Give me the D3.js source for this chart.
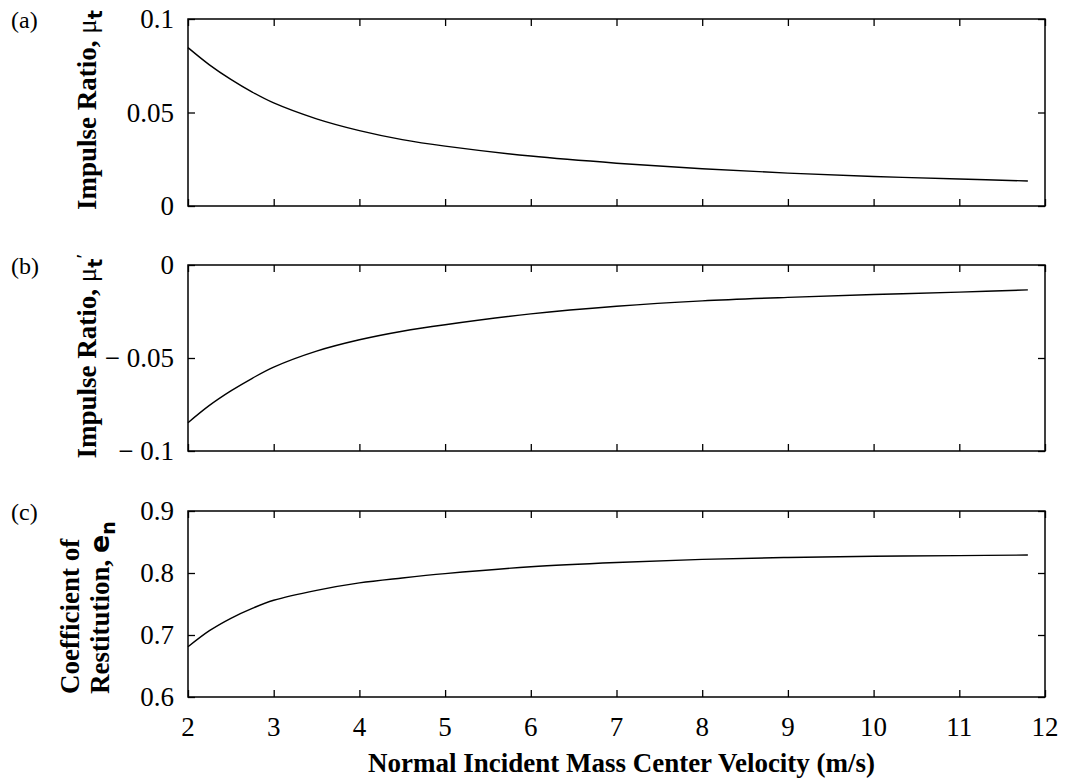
<!DOCTYPE html>
<html>
<head>
<meta charset="utf-8">
<script src="https://cdn.jsdelivr.net/npm/d3@7"></script>
<style>
  body { margin: 0; background: #fff; }
  svg { display: block; }
  text { font-family: 'Liberation Serif', 'Times New Roman', serif; fill: #000; }
</style>
</head>
<body>
<div id="chart"></div>
<script>
'use strict';

// ── Data ──
var velocity = [2, 2.25, 2.5, 2.75, 3, 3.5, 4, 4.5, 5, 6, 7, 8, 9, 10, 11, 11.8];
var ratioA   = [0.0847, 0.0755, 0.0677, 0.0609, 0.0551, 0.0466, 0.0403, 0.0355, 0.0320, 0.0267, 0.0229, 0.0199, 0.0176, 0.0158, 0.0144, 0.0134];
var ratioB   = [-0.0848, -0.0755, -0.0677, -0.0609, -0.0549, -0.0463, -0.0402, -0.0356, -0.0321, -0.0263, -0.0222, -0.0193, -0.0174, -0.0159, -0.0146, -0.0134];
var restC    = [0.681, 0.707, 0.727, 0.743, 0.756, 0.772, 0.784, 0.792, 0.799, 0.810, 0.817, 0.822, 0.825, 0.827, 0.828, 0.829];

var xTicks = [2, 3, 4, 5, 6, 7, 8, 9, 10, 11, 12];
var yTicksA = [0, 0.05, 0.1];
var yTicksB = [-0.1, -0.05, 0];
var yTicksC = [0.6, 0.7, 0.8, 0.9];
var yLabelsA = ['0', '0.05', '0.1'];
var yLabelsB = ['\u2212 0.1', '\u2212 0.05', '0'];
var yLabelsC = ['0.6', '0.7', '0.8', '0.9'];

var W = 1067, H = 784;
var left = 188, right = 1045;
var tickLen = 7;

var svg = d3.select('#chart').append('svg').attr('width', W).attr('height', H);

var x = d3.scaleLinear().domain([2, 12]).range([left, right]);

function panel(opts) {
    var y = d3.scaleLinear().domain(opts.domain).range([opts.bottom, opts.top]);
    var g = svg.append('g');

    // frame
    g.append('rect')
        .attr('x', left).attr('y', opts.top)
        .attr('width', right - left).attr('height', opts.bottom - opts.top)
        .style('fill', 'none').style('stroke', '#000').style('stroke-width', 1.5);

    // inward ticks, all four sides
    var bottomAx = d3.axisTop(x).tickValues(xTicks).tickSize(tickLen).tickFormat('');
    var topAx = d3.axisBottom(x).tickValues(xTicks).tickSize(tickLen).tickFormat('');
    var leftAx = d3.axisRight(y).tickValues(opts.ticks).tickSize(tickLen).tickFormat('');
    var rightAx = d3.axisLeft(y).tickValues(opts.ticks).tickSize(tickLen).tickFormat('');

    [[bottomAx, 'translate(0,' + opts.bottom + ')'],
     [topAx, 'translate(0,' + opts.top + ')'],
     [leftAx, 'translate(' + left + ',0)'],
     [rightAx, 'translate(' + right + ',0)']].forEach(function(a) {
        var ag = g.append('g').attr('transform', a[1]).call(a[0]);
        ag.select('.domain').remove();
        ag.selectAll('line').style('stroke', '#000').style('stroke-width', 1.3);
    });

    // y tick labels
    g.selectAll('.ylab')
        .data(opts.ticks).enter()
        .append('text').attr('class', 'ylab')
        .attr('x', left - 14)
        .attr('y', function(d) { return y(d); })
        .attr('dy', '0.35em')
        .attr('text-anchor', 'end')
        .style('font-size', '27px')
        .text(function(d, i) { return opts.tickLabels[i]; });

    // curve
    var line = d3.line()
        .x(function(d, i) { return x(velocity[i]); })
        .y(function(d) { return y(d); })
        .curve(d3.curveCatmullRom.alpha(0.5));
    g.append('path').datum(opts.values)
        .attr('d', line)
        .style('fill', 'none').style('stroke', '#000').style('stroke-width', 1.4);

    // panel letter
    svg.append('text')
        .attr('x', 11).attr('y', opts.top + 9)
        .style('font-size', '24px')
        .text(opts.letter);

    return y;
}

panel({ top: 19, bottom: 206, domain: [0, 0.1], ticks: yTicksA, tickLabels: yLabelsA, values: ratioA, letter: '(a)' });
panel({ top: 265, bottom: 451, domain: [-0.1, 0], ticks: yTicksB, tickLabels: yLabelsB, values: ratioB, letter: '(b)' });
panel({ top: 511, bottom: 697, domain: [0.6, 0.9], ticks: yTicksC, tickLabels: yLabelsC, values: restC, letter: '(c)' });

// x tick labels under the bottom panel
svg.selectAll('.xlab')
    .data(xTicks).enter()
    .append('text').attr('class', 'xlab')
    .attr('x', function(d) { return x(d); })
    .attr('y', 736)
    .attr('text-anchor', 'middle')
    .style('font-size', '27px')
    .text(function(d) { return d; });

svg.append('text')
    .attr('x', (left + right) / 2 + 5).attr('y', 772)
    .attr('text-anchor', 'middle')
    .style('font-size', '27px').style('font-weight', 'bold')
    .text('Normal Incident Mass Center Velocity (m/s)');

// rotated y titles
function yTitle(cx, cy, anchor, parts) {
    var t = svg.append('text')
        .attr('transform', 'translate(' + cx + ',' + cy + ') rotate(-90)')
        .attr('text-anchor', anchor)
        .style('font-size', '27px').style('font-weight', 'bold');
    parts.forEach(function(p) {
        var s = t.append('tspan').text(p.text);
        if (p.sub) s.attr('dy', '0.3em').style('font-size', '19px');
        if (p.sup) s.attr('dy', '-0.6em').style('font-size', '19px');
        if (p.sans) s.style('font-family', "'DejaVu Sans', sans-serif");
        if (p.normal) s.style('font-weight', 'normal');
    });
}

yTitle(96, 110, 'middle', [
    { text: 'Impulse Ratio, ' },
    { text: '\u03bc', normal: true },
    { text: 't', sub: true, sans: true }
]);
yTitle(96, 356, 'middle', [
    { text: 'Impulse Ratio, ' },
    { text: '\u03bc', normal: true },
    { text: 't', sub: true, sans: true },
    { text: '\u2032', sup: true }
]);
yTitle(79, 694, 'start', [
    { text: 'Coefficient of' }
]);
yTitle(109, 694, 'start', [
    { text: 'Restitution, ' },
    { text: 'e', sans: true },
    { text: 'n', sub: true, sans: true }
]);
</script>
</body>
</html>
